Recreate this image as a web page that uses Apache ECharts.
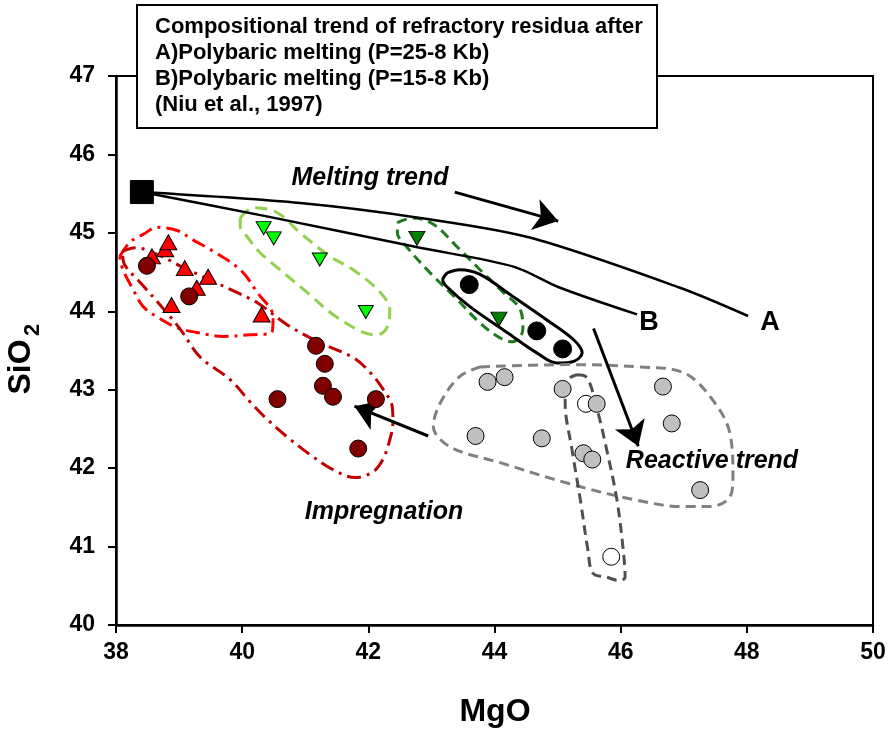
<!DOCTYPE html>
<html>
<head>
<meta charset="utf-8">
<script src="https://cdn.jsdelivr.net/npm/echarts@6/dist/echarts.min.js"></script>
<style>
  html, body { margin: 0; padding: 0; background: #fff; }
  #chart { width: 891px; height: 734px; }
</style>
</head>
<body>
<div id="chart"></div>
<script>
// axes
const xTicks = [38, 40, 42, 44, 46, 48, 50];
const yTicks = [40, 41, 42, 43, 44, 45, 46, 47];

// points (MgO, SiO2)
const startPoint = [[38.41, 45.52]];
const redTriangles = [[38.57, 44.70], [38.78, 44.79], [38.83, 44.88], [39.09, 44.55], [39.46, 44.44], [39.28, 44.30], [38.88, 44.08], [40.31, 43.96]];
const maroonCircles = [[38.49, 44.58], [39.16, 44.19], [41.17, 43.56], [41.31, 43.33], [41.28, 43.05], [41.44, 42.91], [40.56, 42.88], [42.12, 42.88], [41.84, 42.25]];
const limeTriangles = [[40.34, 45.06], [40.50, 44.93], [41.23, 44.66], [41.96, 43.99]];
const greenTriangles = [[42.77, 44.93], [44.07, 43.90]];
const blackCircles = [[43.60, 44.34], [44.67, 43.75], [45.08, 43.52]];
const whiteCircles = [[45.45, 42.82], [45.85, 40.87]];
const grayCircles = [[43.89, 43.10], [44.16, 43.16], [45.08, 43.01], [45.62, 42.82], [46.67, 43.04], [46.81, 42.57], [43.70, 42.41], [44.75, 42.38], [45.41, 42.19], [45.55, 42.11], [47.26, 41.72]];

// melting curves (Niu et al., 1997)
const curveA = [[38.41, 45.52], [40.92, 45.38], [42.82, 45.19], [44.56, 44.94], [46.94, 44.30], [48.02, 43.94]];
const curveB = [[38.41, 45.52], [40.39, 45.21], [42.82, 44.81], [44.30, 44.57], [45.04, 44.30], [46.26, 43.96]];

// hand drawn outlines
const outlineRed = [[38.06, 44.70], [38.22, 44.88], [38.43, 44.98], [38.65, 45.07], [38.97, 45.03], [39.22, 44.91], [39.49, 44.79], [39.97, 44.53], [40.24, 44.24], [40.49, 43.93], [40.47, 43.73], [40.12, 43.70], [39.70, 43.68], [39.28, 43.73], [38.97, 43.79], [38.65, 43.93], [38.43, 44.06], [38.27, 44.28], [38.11, 44.53], [38.06, 44.70]];
const outlineDarkRed = [[38.10, 44.76], [38.30, 44.81], [38.70, 44.71], [39.06, 44.56], [39.49, 44.40], [39.89, 44.25], [40.24, 44.11], [40.71, 43.83], [41.23, 43.60], [41.76, 43.41], [42.03, 43.22], [42.23, 43.01], [42.38, 42.78], [42.39, 42.58], [42.34, 42.36], [42.23, 42.11], [42.07, 41.95], [41.79, 41.88], [41.44, 41.98], [41.08, 42.17], [40.71, 42.40], [40.36, 42.65], [40.12, 42.85], [39.81, 43.13], [39.33, 43.42], [39.02, 43.77], [38.70, 44.08], [38.38, 44.37], [38.14, 44.59], [38.10, 44.76]];
const outlineLime = [[39.97, 45.19], [40.17, 45.32], [40.55, 45.26], [40.92, 45.00], [41.39, 44.70], [41.76, 44.53], [42.19, 44.24], [42.34, 44.02], [42.30, 43.80], [42.14, 43.70], [41.92, 43.73], [41.44, 43.96], [41.03, 44.24], [40.60, 44.53], [40.28, 44.75], [40.08, 44.95], [39.97, 45.08], [39.97, 45.19]];
const outlineGreen = [[42.46, 45.13], [42.71, 45.19], [43.03, 45.11], [43.41, 44.82], [43.77, 44.53], [44.14, 44.24], [44.41, 44.02], [44.45, 43.77], [44.29, 43.61], [44.09, 43.66], [43.77, 43.85], [43.41, 44.15], [42.98, 44.49], [42.61, 44.82], [42.46, 45.00], [42.46, 45.13]];
const outlineBlack = [[43.25, 44.49], [43.45, 44.53], [43.77, 44.47], [44.29, 44.19], [44.83, 43.89], [45.25, 43.64], [45.39, 43.47], [45.25, 43.36], [44.99, 43.34], [44.67, 43.47], [44.20, 43.73], [43.61, 44.06], [43.25, 44.31], [43.18, 44.40], [43.25, 44.49]];
const outlineGray = [[43.77, 43.29], [45.15, 43.32], [46.31, 43.29], [46.99, 43.22], [47.42, 42.91], [47.73, 42.45], [47.78, 41.89], [47.73, 41.63], [47.42, 41.51], [46.99, 41.51], [46.20, 41.60], [45.15, 41.81], [44.09, 42.07], [43.30, 42.27], [43.03, 42.53], [43.14, 42.83], [43.45, 43.17], [43.77, 43.29]];
const outlineDarkGray = [[45.31, 43.19], [45.47, 43.15], [45.63, 42.74], [45.78, 42.23], [45.94, 41.60], [46.04, 40.96], [46.07, 40.61], [45.96, 40.57], [45.78, 40.61], [45.56, 40.66], [45.48, 40.96], [45.36, 41.60], [45.23, 42.23], [45.12, 42.83], [45.17, 43.13], [45.31, 43.19]];

// arrows: [from, to]
const arrowMelting = [[43.37, 45.52], [45.01, 45.15]];
const arrowReactive = [[45.57, 43.78], [46.28, 42.28]];
const arrowImpregnation = [[42.95, 42.41], [41.78, 42.79]];

const titleLines = [
    'Compositional trend of refractory residua after',
    'A)Polybaric melting (P=25-8 Kb)',
    'B)Polybaric melting (P=15-8 Kb)',
    '(Niu et al., 1997)'
];

const FONT = 'Liberation Sans, Arial, Helvetica, sans-serif';

function outline(data, color, dash, width) {
    return {
        type: 'line', data: data, smooth: 0.35, symbol: 'none', silent: true, z: 2,
        lineStyle: { color: color, width: width || 3, type: dash }
    };
}

function points(data, symbol, size, color, rotate) {
    return {
        type: 'scatter', data: data, symbol: symbol, symbolSize: size, symbolRotate: rotate || 0, z: 5,
        itemStyle: { color: color, borderColor: '#000', borderWidth: 1, opacity: 1 }
    };
}

function text(str, x, y, size, opts) {
    return Object.assign({
        type: 'text', x: x, y: y, z: 20,
        style: {
            text: str, fill: '#000', fontFamily: FONT, fontWeight: 'bold', fontSize: size,
            fontStyle: (opts && opts.italic) ? 'italic' : 'normal',
            align: (opts && opts.align) || 'center', textAlign: (opts && opts.align) || 'center',
            verticalAlign: 'middle', textVerticalAlign: 'middle'
        }
    }, opts && opts.rotation ? { rotation: opts.rotation } : {});
}

const chart = echarts.init(document.getElementById('chart'));

const titleGraphic = [{
    type: 'rect', z: 15,
    shape: { x: 137, y: 5, width: 520, height: 123 },
    style: { fill: '#fff', stroke: '#000', lineWidth: 2 }
}];
titleLines.forEach((t, i) => {
    titleGraphic.push(text(t, 155, 27 + i * 26, 22, { align: 'left' }));
});

chart.setOption({
    animation: false,
    backgroundColor: '#fff',
    grid: { left: 116, right: 18, top: 76, bottom: 109, show: true, borderColor: '#000', borderWidth: 2 },
    xAxis: {
        type: 'value', min: xTicks[0], max: xTicks[xTicks.length - 1], interval: 2,
        axisLine: { show: true, onZero: false, lineStyle: { color: '#000', width: 2.5 } },
        axisTick: { show: true, inside: false, length: 8, lineStyle: { color: '#000', width: 2 } },
        axisLabel: { color: '#000', fontFamily: FONT, fontWeight: 'bold', fontSize: 23, margin: 16 },
        splitLine: { show: false }
    },
    yAxis: {
        type: 'value', min: yTicks[0], max: yTicks[yTicks.length - 1], interval: 1,
        axisLine: { show: true, onZero: false, lineStyle: { color: '#000', width: 2.5 } },
        axisTick: { show: true, inside: false, length: 8, lineStyle: { color: '#000', width: 2 } },
        axisLabel: { color: '#000', fontFamily: FONT, fontWeight: 'bold', fontSize: 23, margin: 21 },
        splitLine: { show: false }
    },
    series: [
        outline(outlineRed, '#ff0000', [14, 6, 3, 6]),
        outline(outlineDarkRed, '#c00000', [14, 6, 3, 6]),
        outline(outlineLime, '#92d050', [12, 7]),
        outline(outlineGreen, '#1e7b1e', [10, 6]),
        outline(outlineBlack, '#000000', 'solid'),
        outline(outlineGray, '#808080', [10, 6]),
        outline(outlineDarkGray, '#505050', [10, 6]),
        {
            type: 'line', data: curveA, smooth: 0.3, symbol: 'none', silent: true, z: 3,
            lineStyle: { color: '#000', width: 2.5 }
        },
        {
            type: 'line', data: curveB, smooth: 0.3, symbol: 'none', silent: true, z: 3,
            lineStyle: { color: '#000', width: 2.5 }
        },
        {
            type: 'lines', coordinateSystem: 'cartesian2d', silent: true, z: 4,
            symbol: ['none', 'arrow'], symbolSize: [0, 24],
            lineStyle: { color: '#000', width: 3, opacity: 1 },
            data: [
                { coords: arrowMelting },
                { coords: arrowReactive },
                { coords: arrowImpregnation }
            ]
        },
        points(redTriangles, 'triangle', [17, 15], '#ff0000'),
        points(maroonCircles, 'circle', 17, '#800000'),
        points(limeTriangles, 'triangle', [15, 13], '#00ff00', 180),
        points(greenTriangles, 'triangle', [16, 14], '#008000', 180),
        points(blackCircles, 'circle', 18, '#000000'),
        points(whiteCircles, 'circle', 17, '#ffffff'),
        points(grayCircles, 'circle', 17, '#c0c0c0'),
        points(startPoint, 'rect', 23, '#000000')
    ],
    graphic: titleGraphic.concat([
        text('Melting trend', 370, 178, 25, { italic: true }),
        text('Reactive trend', 712, 461, 25, { italic: true }),
        text('Impregnation', 384, 512, 25, { italic: true }),
        text('B', 649, 323, 27),
        text('A', 770, 323, 27),
        text('MgO', 495, 712, 32),
        text('SiO', 21, 367, 32, { rotation: Math.PI / 2 }),
        text('2', 33, 330, 22, { rotation: Math.PI / 2 })
    ])
});
</script>
</body>
</html>
